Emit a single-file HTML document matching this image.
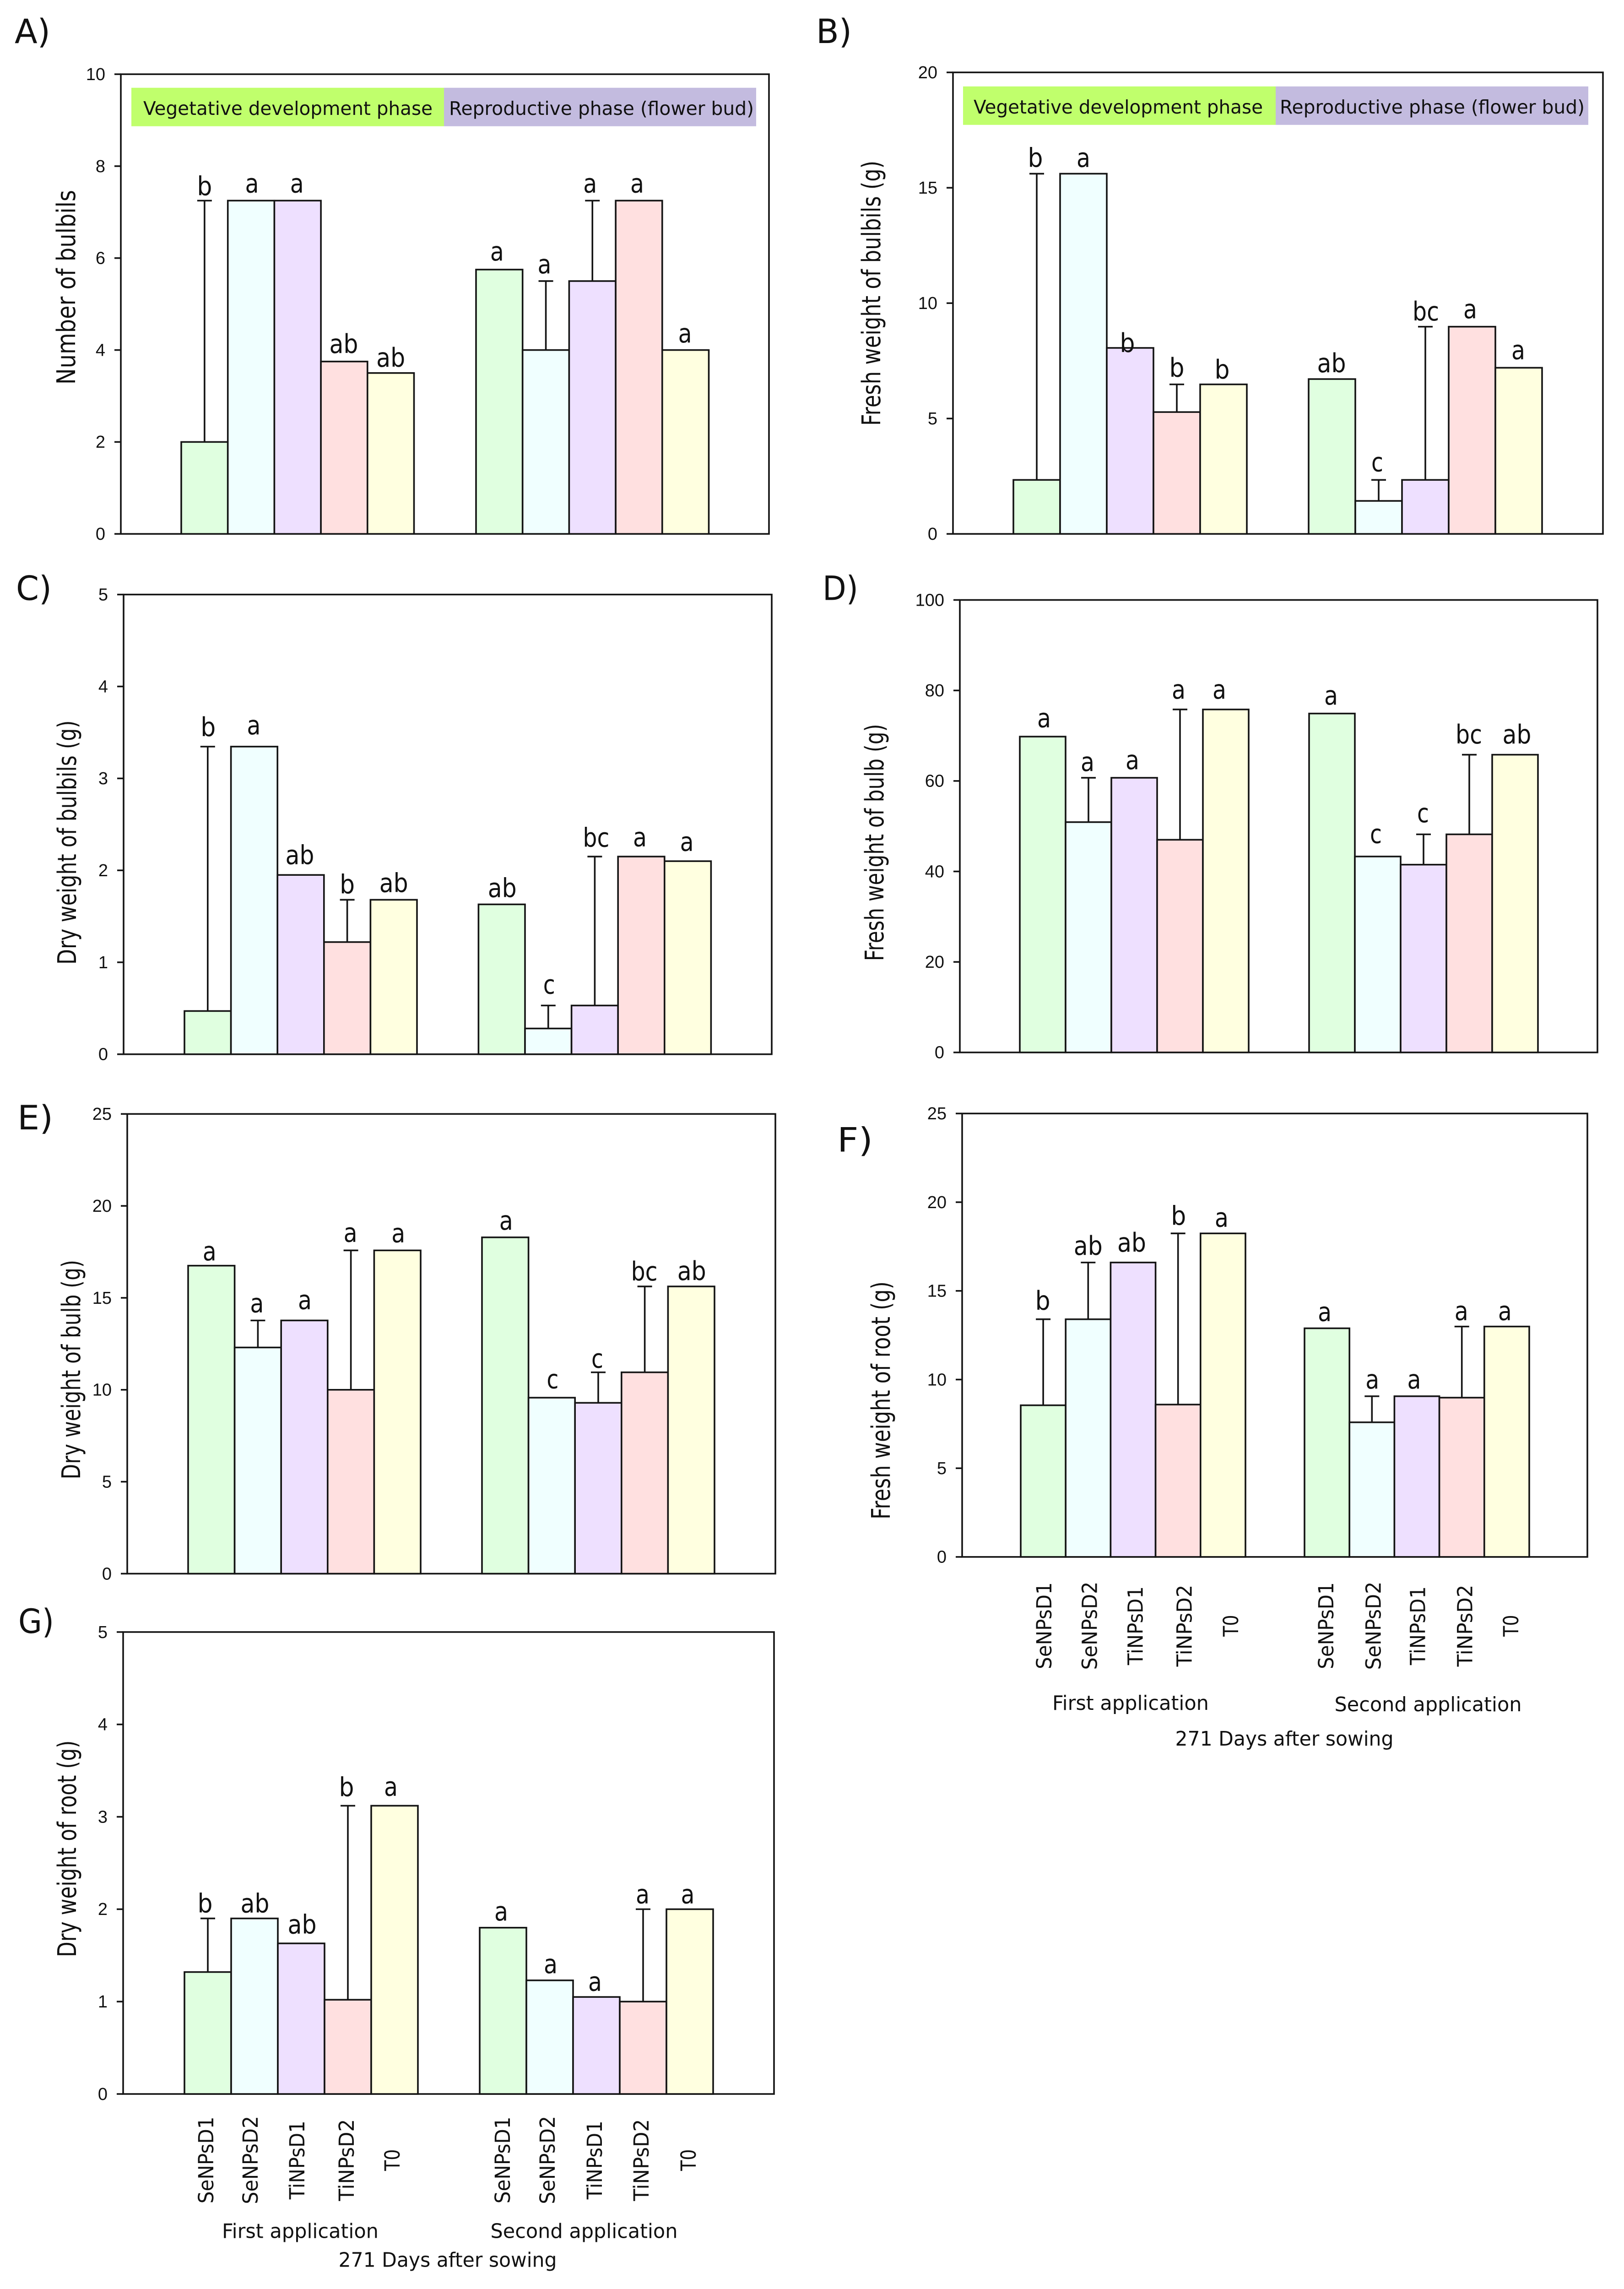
<!DOCTYPE html>
<html lang="en">
<head>
<meta charset="utf-8">
<title>Bulbil, bulb and root measurements, panels A to G</title>
<style>
html,body{margin:0;padding:0;background:#fff;width:100%;height:100%;overflow:hidden;}
svg{display:block;width:100vw;height:100vh;}
text{fill:#111;}
.sans{font-family:"DejaVu Sans","Liberation Sans",sans-serif;}
.tick{font-family:"Liberation Sans",sans-serif;font-size:38px;}
</style>
</head>
<body>
<svg id="figure" xmlns="http://www.w3.org/2000/svg" viewBox="0 0 3548 5059" preserveAspectRatio="none"></svg>
<script>
// Shared categories and phase labels
const categories = ['SeNPsD1', 'SeNPsD2', 'TiNPsD1', 'TiNPsD2', 'T0'];
const groupNames = ['First application', 'Second application'];
const xTitle = '271 Days after sowing';
const phaseNames = ['Vegetative development phase', 'Reproductive phase (flower bud)'];

// Panel A
const aTicks = [0, 2, 4, 6, 8, 10];
const aFirstValues = [2, 7.25, 7.25, 3.75, 3.5];
const aFirstErrors = [5.25, 0, 0, 0, 0];
const aFirstLetters = ['b', 'a', 'a', 'ab', 'ab'];
const aSecondValues = [5.75, 4, 5.5, 7.25, 4];
const aSecondErrors = [0, 1.5, 1.75, 0, 0];
const aSecondLetters = ['a', 'a', 'a', 'a', 'a'];

// Panel B
const bTicks = [0, 5, 10, 15, 20];
const bFirstValues = [2.34, 15.61, 8.06, 5.28, 6.48];
const bFirstErrors = [13.27, 0, 0, 1.2, 0];
const bFirstLetters = ['b', 'a', 'b', 'b', 'b'];
const bSecondValues = [6.71, 1.43, 2.34, 8.98, 7.2];
const bSecondErrors = [0, 0.91, 6.64, 0, 0];
const bSecondLetters = ['ab', 'c', 'bc', 'a', 'a'];

// Panel C
const cTicks = [0, 1, 2, 3, 4, 5];
const cFirstValues = [0.47, 3.346, 1.95, 1.22, 1.68];
const cFirstErrors = [2.876, 0, 0, 0.46, 0];
const cFirstLetters = ['b', 'a', 'ab', 'b', 'ab'];
const cSecondValues = [1.63, 0.28, 0.53, 2.15, 2.1];
const cSecondErrors = [0, 0.25, 1.62, 0, 0];
const cSecondLetters = ['ab', 'c', 'bc', 'a', 'a'];

// Panel D
const dTicks = [0, 20, 40, 60, 80, 100];
const dFirstValues = [69.8, 50.9, 60.7, 47, 75.8];
const dFirstErrors = [0, 9.8, 0, 28.8, 0];
const dFirstLetters = ['a', 'a', 'a', 'a', 'a'];
const dSecondValues = [74.9, 43.3, 41.5, 48.2, 65.8];
const dSecondErrors = [0, 0, 6.7, 17.6, 0];
const dSecondLetters = ['a', 'c', 'c', 'bc', 'ab'];

// Panel E
const eTicks = [0, 5, 10, 15, 20, 25];
const eFirstValues = [16.75, 12.3, 13.77, 10, 17.58];
const eFirstErrors = [0, 1.47, 0, 7.58, 0];
const eFirstLetters = ['a', 'a', 'a', 'a', 'a'];
const eSecondValues = [18.29, 9.57, 9.29, 10.95, 15.62];
const eSecondErrors = [0, 0, 1.66, 4.67, 0];
const eSecondLetters = ['a', 'c', 'c', 'bc', 'ab'];

// Panel F
const fTicks = [0, 5, 10, 15, 20, 25];
const fFirstValues = [8.55, 13.4, 16.6, 8.59, 18.24];
const fFirstErrors = [4.85, 3.2, 0, 9.65, 0];
const fFirstLetters = ['b', 'ab', 'ab', 'b', 'a'];
const fSecondValues = [12.89, 7.59, 9.06, 8.98, 12.99];
const fSecondErrors = [0, 1.47, 0, 4.01, 0];
const fSecondLetters = ['a', 'a', 'a', 'a', 'a'];

// Panel G
const gTicks = [0, 1, 2, 3, 4, 5];
const gFirstValues = [1.32, 1.9, 1.63, 1.02, 3.12];
const gFirstErrors = [0.58, 0, 0, 2.1, 0];
const gFirstLetters = ['b', 'ab', 'ab', 'b', 'a'];
const gSecondValues = [1.8, 1.23, 1.05, 1, 2];
const gSecondErrors = [0, 0, 0, 1, 0];
const gSecondLetters = ['a', 'a', 'a', 'a', 'a'];

// Bar colours per category
const fills = ['#e0ffe0', '#f0ffff', '#eee0ff', '#ffe0e0', '#ffffe0'];
const ink = '#141414';
const lineW = 3.6;
const NS = 'http://www.w3.org/2000/svg';
const figure = document.getElementById('figure');

// Measured text lengths
const catLen = { SeNPsD1: 192, SeNPsD2: 195, TiNPsD1: 174, TiNPsD2: 181, T0: 48 };
const letterLen = { a: 30, b: 33, c: 26, ab: 63, bc: 58 };

// Layout of every panel (frames and text nudges, no data)
const panels = [
  { id: 'a', tag: 'A)', tagX: 32, tagY: 95, left: 264, right: 1680, top: 164, bottom: 1180,
    ticks: aTicks, v1: aFirstValues, e1: aFirstErrors, l1: aFirstLetters, v2: aSecondValues, e2: aSecondErrors, l2: aSecondLetters,
    g1: 396, g2: 1040, bw: 101.7,
    title: 'Number of bulbils', titleX: 164, titleY: 635, titleLen: 430,
    dx: [0, 2, -1.5, -1, 0, -5, -3, -5, -4, -1], gap: [12, 18, 18, 19, 14, 20, 17, 18, 18, 17],
    band: { x0: 287, x1: 970, x2: 1652, y0: 194, y1: 279, t1: 313, t2: 981, base: 254 } },
  { id: 'b', tag: 'B)', tagX: 1783, tagY: 95, left: 2082, right: 3502, top: 160, bottom: 1180,
    ticks: bTicks, v1: bFirstValues, e1: bFirstErrors, l1: bFirstLetters, v2: bSecondValues, e2: bSecondErrors, l2: bSecondLetters,
    g1: 2214, g2: 2859, bw: 102,
    title: 'Fresh weight of bulbils (g)', titleX: 1923, titleY: 648, titleLen: 586,
    dx: [-3, 0, -6, 0, -3, -1, -3, 1, -4, -1], gap: [15, 15, -9, 17, 13, 15, 19, 14, 19, 19],
    band: { x0: 2104, x1: 2787, x2: 3470, y0: 191, y1: 276, t1: 2127, t2: 2796, base: 251 } },
  { id: 'c', tag: 'C)', tagX: 35, tagY: 1326, left: 270, right: 1686, top: 1314, bottom: 2330,
    ticks: cTicks, v1: cFirstValues, e1: cFirstErrors, l1: cFirstLetters, v2: cSecondValues, e2: cSecondErrors, l2: cSecondLetters,
    g1: 403, g2: 1045.4, bw: 101.6,
    title: 'Dry weight of bulbils (g)', titleX: 166, titleY: 1862, titleLen: 540,
    dx: [1, -1, -2, 0, 0, 1, 2, 3, -3, -2], gap: [23, 27, 24, 14, 17, 16, 26, 22, 23, 23] },
  { id: 'd', tag: 'D)', tagX: 1797, tagY: 1326, left: 2097, right: 3490, top: 1326, bottom: 2326,
    ticks: dTicks, v1: dFirstValues, e1: dFirstErrors, l1: dFirstLetters, v2: dSecondValues, e2: dSecondErrors, l2: dSecondLetters,
    g1: 2228, g2: 2860, bw: 100,
    title: 'Fresh weight of bulb (g)', titleX: 1930, titleY: 1862, titleLen: 524,
    dx: [3, -2, -4, -3, -14, -2, -4, -1, -1, 4], gap: [21, 15, 19, 24, 24, 20, 30, 27, 25, 25] },
  { id: 'e', tag: 'E)', tagX: 38, tagY: 2496, left: 278, right: 1694, top: 2462, bottom: 3478,
    ticks: eTicks, v1: eFirstValues, e1: eFirstErrors, l1: eFirstLetters, v2: eSecondValues, e2: eSecondErrors, l2: eSecondLetters,
    g1: 411, g2: 1053, bw: 101.6,
    title: 'Dry weight of bulb (g)', titleX: 175, titleY: 3027, titleLen: 485,
    dx: [-4, -2, 1, -1, 2, 2, 2, -2, -1, 1], gap: [12, 18, 25, 19, 18, 17, 21, 10, 13, 14] },
  { id: 'f', tag: 'F)', tagX: 1829, tagY: 2545, left: 2102, right: 3468, top: 2461, bottom: 3441,
    ticks: fTicks, v1: fFirstValues, e1: fFirstErrors, l1: fFirstLetters, v2: fSecondValues, e2: fSecondErrors, l2: fSecondLetters,
    g1: 2230, g2: 2850, bw: 98.2,
    title: 'Fresh weight of root (g)', titleX: 1944, titleY: 3095, titleLen: 526,
    dx: [-1, 0, -3, 1, -3, -5, 1, -6, -1, -4], gap: [21, 17, 24, 19, 15, 16, 17, 17, 14, 14],
    cats: { cy: 3593, dx: [1, 2, 4, 13, 16, -3, 2, 1, 6, 8], g1x: 2470, g1y: 3779, g2x: 3120, g2y: 3782, tx: 2806, ty: 3858 } },
  { id: 'g', tag: 'G)', tagX: 40, tagY: 3609, left: 269, right: 1691, top: 3607, bottom: 4628,
    ticks: gTicks, v1: gFirstValues, e1: gFirstErrors, l1: gFirstLetters, v2: gSecondValues, e2: gSecondErrors, l2: gSecondLetters,
    g1: 403, g2: 1048, bw: 102,
    title: 'Dry weight of root (g)', titleX: 166, titleY: 4086, titleLen: 479,
    dx: [-6, 1, 2, -3, -8, -4, 2, -3, -1, -4.5], gap: [13, 13, 22, 21, 22, 16, 16, 14, 13, 13],
    cats: { cy: 4774, dx: [-5, -10, -10, -4, -6, -2, -6, -5, -5, -4], g1x: 656, g1y: 4946, g2x: 1276, g2y: 4946, tx: 978, ty: 5010 } }
];

function make(tag, attrs, parent, txt) {
  const el = document.createElementNS(NS, tag);
  for (const k in attrs) el.setAttribute(k, attrs[k]);
  if (txt !== undefined) el.textContent = txt;
  parent.appendChild(el);
  return el;
}

function drawPanel(p) {
  const g = make('g', {}, figure);
  
  

  const maxV = p.ticks[p.ticks.length - 1];
  const yScale = v => p.bottom - (v / maxV) * (p.bottom - p.top);
  const barX = (group, i) => (group === 0 ? p.g1 : p.g2) + i * p.bw;

  const tagEl = make('text', { x: p.tagX, y: p.tagY, class: 'sans', 'font-size': 74, textLength: 78, lengthAdjust: 'spacingAndGlyphs' }, g, p.tag);
  
  

  // Phase band behind the bars
  if (p.band) {
    const b = p.band;
    const r1 = make('rect', { x: b.x0, y: b.y0, width: b.x1 - b.x0, height: b.y1 - b.y0, fill: '#c0ff6c' }, g);
    
    
    const r2 = make('rect', { x: b.x1, y: b.y0, width: b.x2 - b.x1, height: b.y1 - b.y0, fill: '#c3bbdf' }, g);
    
    
    const t1 = make('text', { x: b.t1, y: b.base, class: 'sans', 'font-size': 41, textLength: 632, lengthAdjust: 'spacingAndGlyphs' }, g, phaseNames[0]);
    
    
    const t2 = make('text', { x: b.t2, y: b.base, class: 'sans', 'font-size': 41, textLength: 666, lengthAdjust: 'spacingAndGlyphs' }, g, phaseNames[1]);
    
    
  }

  // Plot frame
  const frame = make('rect', { x: p.left, y: p.top, width: p.right - p.left, height: p.bottom - p.top, fill: 'none', stroke: ink, 'stroke-width': lineW }, g);
  
  

  // Y axis ticks and labels
  p.ticks.forEach(t => {
    const y = yScale(t);
    const tk = make('line', { x1: p.left - 14, x2: p.left, y1: y, y2: y, stroke: ink, 'stroke-width': lineW }, g);
    
    
    const lb = make('text', { x: p.left - 34, y: y + 13, class: 'tick', 'text-anchor': 'end' }, g, String(t));
    
    
  });

  // Y axis title
  const yt = make('text', {
    transform: 'translate(' + p.titleX + ',' + p.titleY + ') rotate(-90)',
    class: 'sans', 'font-size': 56, 'text-anchor': 'middle', textLength: p.titleLen, lengthAdjust: 'spacingAndGlyphs'
  }, g, p.title);
  
  

  // Bars, error bars and significance letters
  const base = p.bottom;
  [[p.v1, p.e1, p.l1], [p.v2, p.e2, p.l2]].forEach((series, gi) => {
    const vals = series[0], errs = series[1], lets = series[2];
    vals.forEach((v, i) => {
      const x = barX(gi, i), cx = x + p.bw / 2, y = yScale(v), topV = yScale(v + errs[i]);
      if (errs[i] > 0) {
        const el = make('line', { x1: cx, x2: cx, y1: y, y2: topV, stroke: ink, 'stroke-width': lineW }, g);
        
        
        const cap = make('line', { x1: cx - 16, x2: cx + 16, y1: topV, y2: topV, stroke: ink, 'stroke-width': lineW }, g);
        
        
      }
      const bar = make('rect', { x: x, y: y, width: p.bw, height: base - y, fill: fills[i], stroke: ink, 'stroke-width': lineW }, g);
      
      
    });
    vals.forEach((v, i) => {
      const k = gi * 5 + i;
      const cx = barX(gi, i) + p.bw / 2;
      const letter = make('text', {
        x: cx + p.dx[k], y: yScale(v + errs[i]) - p.gap[k],
        class: 'sans', 'font-size': 58, 'text-anchor': 'middle', textLength: letterLen[lets[i]], lengthAdjust: 'spacingAndGlyphs'
      }, g, lets[i]);
      
      
    });
  });

  // Category labels and group titles
  if (p.cats) {
    const c = p.cats;
    [0, 1].forEach(gi => {
      categories.forEach((name, i) => {
        const k = gi * 5 + i;
        const cx = barX(gi, i) + p.bw / 2 + c.dx[k];
        const lab = make('text', {
          transform: 'translate(' + (cx + 17) + ',' + c.cy + ') rotate(-90)',
          class: 'sans', 'font-size': 45, 'text-anchor': 'middle', textLength: catLen[name], lengthAdjust: 'spacingAndGlyphs'
        }, g, name);
        
        
      });
    });
    const g1 = make('text', { x: c.g1x, y: c.g1y, class: 'sans', 'font-size': 44, 'text-anchor': 'middle', textLength: 342, lengthAdjust: 'spacingAndGlyphs' }, g, groupNames[0]);
    
    
    const g2 = make('text', { x: c.g2x, y: c.g2y, class: 'sans', 'font-size': 44, 'text-anchor': 'middle', textLength: 409, lengthAdjust: 'spacingAndGlyphs' }, g, groupNames[1]);
    
    
    const xt = make('text', { x: c.tx, y: c.ty, class: 'sans', 'font-size': 44, 'text-anchor': 'middle', textLength: 477, lengthAdjust: 'spacingAndGlyphs' }, g, xTitle);
    
    
  }
}

panels.forEach(drawPanel);
</script>
</body>
</html>
